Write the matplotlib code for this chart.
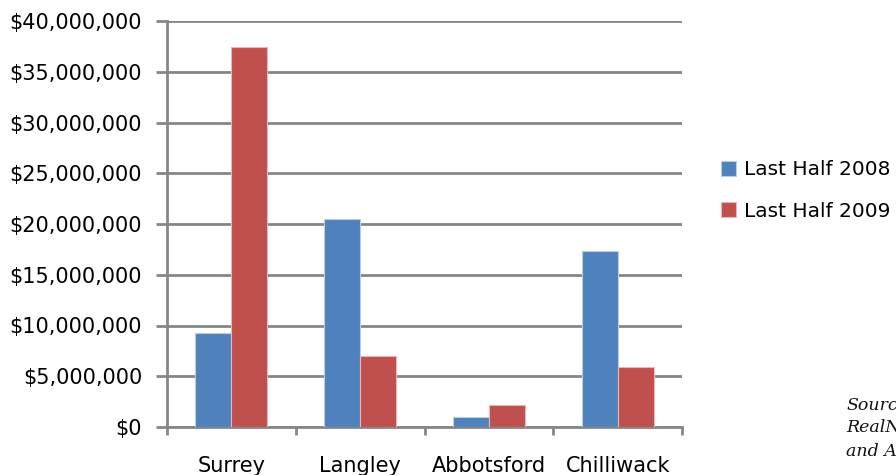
import matplotlib
matplotlib.use("Agg")
import matplotlib.pyplot as plt
import numpy as np
from matplotlib.ticker import FuncFormatter, MultipleLocator

regions = ["Surrey", "Langley", "Abbotsford", "Chilliwack"]
half_2008 = [9_230_000, 20_460_000, 960_000, 17_320_000]
half_2009 = [37_400_000, 7_000_000, 2_200_000, 5_900_000]
series_names = ["Last Half 2008", "Last Half 2009"]
colors = ["#4F81BD", "#C0504D"]
edge_colors = ["#B9CDE5", "#E6B9B8"]

plt.rcParams["font.family"] = ["DejaVu Sans"]

fig = plt.figure(figsize=(8.96, 4.75), dpi=100)
ax = fig.add_axes([167 / 896, 1 - 427 / 475, (682 - 167) / 896, (427 - 21) / 475])

x = np.arange(len(regions))
w = 0.28
for i, (vals, name) in enumerate(zip([half_2008, half_2009], series_names)):
    ax.bar(x + (i - 0.5) * w, vals, width=w, color=colors[i],
           edgecolor=edge_colors[i], linewidth=0.8, label=name, zorder=3)

ax.set_xlim(-0.5, len(regions) - 0.5)
ax.set_ylim(0, 40_000_000)
ax.yaxis.set_major_locator(MultipleLocator(5_000_000))
ax.yaxis.set_major_formatter(FuncFormatter(lambda v, p: f"${v:,.0f}"))
ax.grid(axis="y", color="#868686", linewidth=2, zorder=0)
ax.set_axisbelow(True)

for s in ["top", "right"]:
    ax.spines[s].set_visible(False)
for s in ["left", "bottom"]:
    ax.spines[s].set_color("#868686")
    ax.spines[s].set_linewidth(2)

ax.set_xticks(np.arange(len(regions) + 1) - 0.5)
ax.set_xticklabels([])
ax.set_xticks(x, minor=True)
ax.set_xticklabels(regions, minor=True, fontsize=15)
ax.tick_params(axis="x", which="minor", length=0, pad=21)
ax.tick_params(axis="x", which="major", length=6, width=2, color="#868686")
ax.tick_params(axis="y", length=8, width=2, color="#868686", labelsize=15, pad=10)

handles, labels = ax.get_legend_handles_labels()
fig.legend(handles, labels, loc="center left", bbox_to_anchor=(713 / 896, 1 - 190.5 / 475),
           frameon=False, fontsize=14.5, handlelength=0.75, handleheight=0.75,
           labelspacing=1.12, handletextpad=0.4, borderaxespad=0)

src_kw = dict(family="DejaVu Serif", style="italic", fontsize=12.5, color="#111111",
              ha="left", va="center")
fig.text(846 / 896, 1 - 405 / 475, "Source:", **src_kw)
fig.text(846 / 896, 1 - 428 / 475, "RealNet", **src_kw)
fig.text(846 / 896, 1 - 451 / 475, "and A", **src_kw)

fig.savefig("out.png", dpi=100)
